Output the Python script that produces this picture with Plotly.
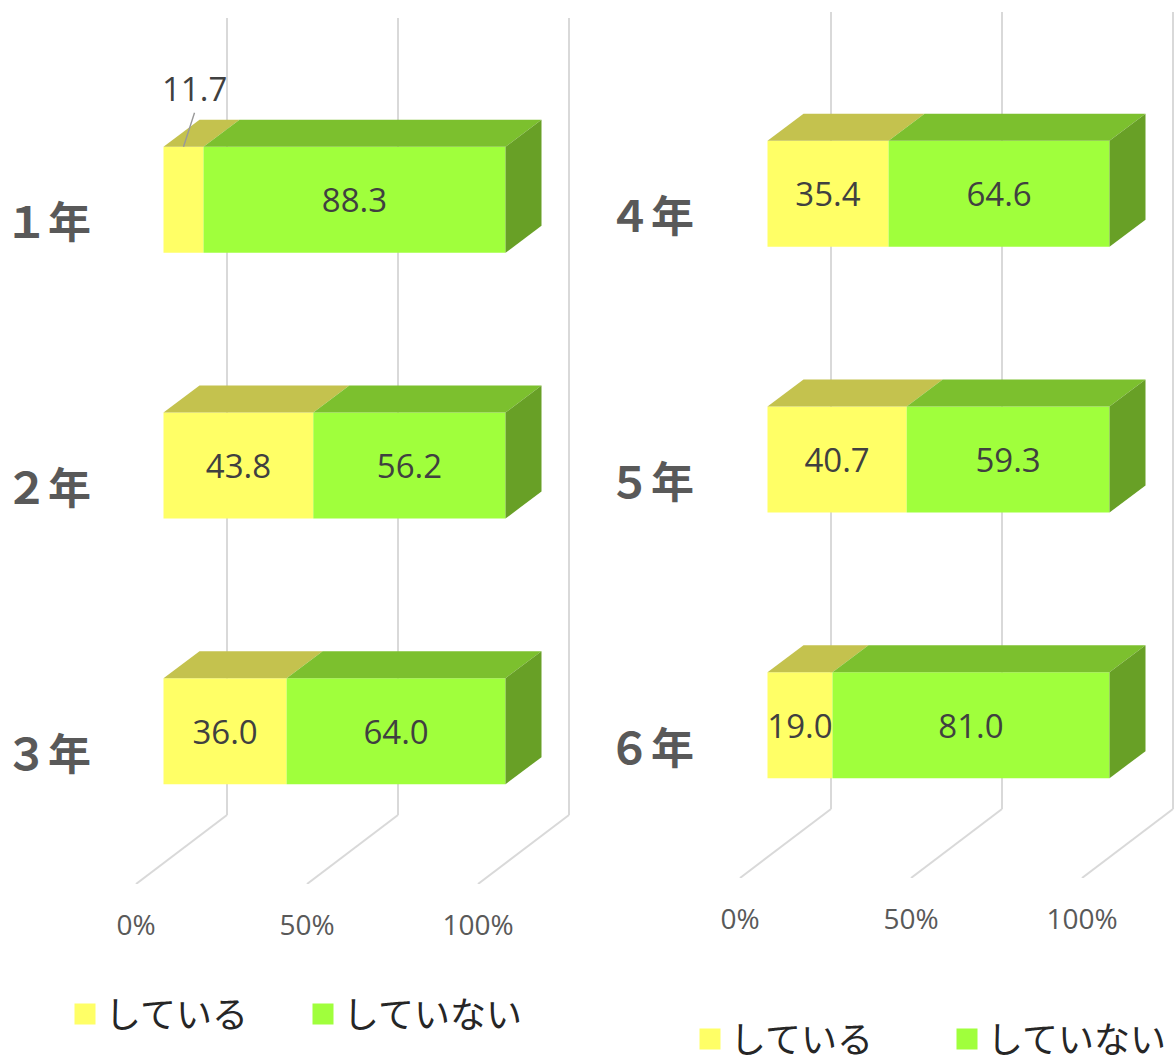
import plotly.graph_objects as go

LEFT_GRADES = ["１年", "２年", "３年"]
LEFT_DOING = [11.7, 43.8, 36.0]
LEFT_NOT = [88.3, 56.2, 64.0]
RIGHT_GRADES = ["４年", "５年", "６年"]
RIGHT_DOING = [35.4, 40.7, 19.0]
RIGHT_NOT = [64.6, 59.3, 81.0]
TICKS = [0, 50, 100]
TICK_TEXT = ["0%", "50%", "100%"]
NAME_DOING = "している"
NAME_NOT = "していない"

W, H = 1176, 1061
PX_PER_PCT = 3.42
PX_PER_CAT = 265.67
BAR_H = 106 / PX_PER_CAT
# depth of planes in pixels (dx, dy)
FRONT = (27.5, 20)
BACK = (63.5, 47)
WALL = (91, 69)
LABEL_NUDGE = 3.5 / PX_PER_CAT

Y_FACE, G_FACE = "#FFFF66", "#A0FF3C"
Y_TOP, G_TOP = "#C4C24E", "#7CC02E"
G_SIDE = "#68A026"
GRID = "#D9D9D9"
LABEL = "#404040"
FONT = "Open Sans, Noto Sans CJK JP, sans-serif"
CJK = "Noto Sans CJK JP, sans-serif"
LEGEND_FONT = "Liberation Sans, Noto Sans CJK JP, sans-serif"


def dx(p):
    return p[0] / PX_PER_PCT


def dy(p):
    return p[1] / PX_PER_CAT


fig = go.Figure()


def poly(xs, ys, color, xa, ya):
    fig.add_trace(go.Scatter(x=xs + xs[:1], y=ys + ys[:1], mode="lines", fill="toself",
                             fillcolor=color, line=dict(width=0, color=color),
                             hoverinfo="skip", showlegend=False, xaxis=xa, yaxis=ya))


def panel(grades, doing, other, xa, ya):
    xref, yref = xa, ya
    # walls and floor lines, drawn under all traces
    for t in TICKS:
        wx = t + dx(WALL)
        fig.add_shape(type="line", xref=xref, yref=yref, x0=t, y0=2.5, x1=wx, y1=2.5 - dy(WALL),
                      line=dict(color=GRID, width=2), layer="below")
        fig.add_shape(type="line", xref=xref, yref=yref, x0=wx, y0=2.5 - dy(WALL), x1=wx, y1=-0.5 - dy(WALL),
                      line=dict(color=GRID, width=2), layer="below")
    for i in range(len(grades)):
        top = i - BAR_H / 2
        bot = i + BAR_H / 2
        a = doing[i]
        b = doing[i] + other[i]
        fx, fy = dx(FRONT), dy(FRONT)
        kx, ky = dx(BACK), dy(BACK)
        # top faces
        poly([fx, fx + a, kx + a, kx], [top - fy, top - fy, top - ky, top - ky], Y_TOP, xa, ya)
        poly([fx + a, fx + b, kx + b, kx + a], [top - fy, top - fy, top - ky, top - ky], G_TOP, xa, ya)
        # side face
        poly([fx + b, kx + b, kx + b, fx + b], [top - fy, top - ky, bot - ky, bot - fy], G_SIDE, xa, ya)
    ys = [i - dy(FRONT) for i in range(len(grades))]
    fx = dx(FRONT)
    doing_text = ["" if v < 15 else f"{v:.1f}" for v in doing]
    fig.add_trace(go.Bar(x=doing, y=ys, base=[fx] * len(ys), orientation="h", width=BAR_H,
                         marker=dict(color=Y_FACE, line=dict(width=0)), text=doing_text,
                         textposition="inside", insidetextanchor="middle", constraintext="none",
                         textangle=0, textfont=dict(family=FONT, size=33, color=LABEL),
                         hoverinfo="skip", showlegend=False, xaxis=xa, yaxis=ya))
    fig.add_trace(go.Bar(x=other, y=ys, base=[fx + v for v in doing], orientation="h", width=BAR_H,
                         marker=dict(color=G_FACE, line=dict(width=0)), text=[f"{v:.1f}" for v in other],
                         textposition="inside", insidetextanchor="middle", constraintext="none",
                         textangle=0, textfont=dict(family=FONT, size=33, color=LABEL),
                         hoverinfo="skip", showlegend=False, xaxis=xa, yaxis=ya))


def legend_items(legend_name, xa, ya):
    for name, color in ((NAME_DOING, Y_FACE), (NAME_NOT, G_FACE)):
        fig.add_trace(go.Scatter(x=[None], y=[None], mode="markers", name=name, legend=legend_name,
                                 marker=dict(symbol="square", size=16, color=color,
                                             line=dict(width=5, color=color)),
                                 xaxis=xa, yaxis=ya))


panel(LEFT_GRADES, LEFT_DOING, LEFT_NOT, "x", "y")
panel(RIGHT_GRADES, RIGHT_DOING, RIGHT_NOT, "x2", "y2")
legend_items("legend", "x", "y")
legend_items("legend2", "x2", "y2")

# outside label with leader for the narrow segment
fig.add_annotation(xref="x", yref="y", x=dx(FRONT) + LEFT_DOING[0] / 2,
                   y=0 - dy(FRONT) - BAR_H / 2, text="11.7", showarrow=True, arrowhead=0,
                   arrowcolor="#999999", arrowwidth=1.4, ax=11, ay=-34, axref="pixel", ayref="pixel",
                   standoff=0, startstandoff=0, yanchor="bottom", xanchor="center",
                   font=dict(family=FONT, size=33, color=LABEL))


def xaxis_cfg(px0, px1, front0):
    return dict(domain=[px0 / W, px1 / W], automargin=False,
                range=[(px0 - front0) / PX_PER_PCT, (px1 - front0) / PX_PER_PCT],
                tickmode="array", tickvals=TICKS, ticktext=TICK_TEXT, showgrid=False, zeroline=False,
                showline=False, ticks="outside", ticklen=16, tickcolor="rgba(0,0,0,0)",
                tickfont=dict(family=FONT, size=28, color="#595959"), fixedrange=True)


def yaxis_cfg(floor_px, labels, anchor):
    top = -0.5 - (floor_px - 3 * PX_PER_CAT) / PX_PER_CAT
    return dict(domain=[1 - floor_px / H, 1], range=[2.5, top], anchor=anchor, automargin=False,
                tickmode="array", tickvals=[i + LABEL_NUDGE for i in range(3)], ticktext=labels,
                showgrid=False, zeroline=False, showline=False, ticks="",
                tickfont=dict(family=CJK, size=43, color="#595959", weight="bold"), fixedrange=True)


fig.update_layout(
    width=W, height=H, margin=dict(l=0, r=0, t=0, b=0, autoexpand=False), autosize=False,
    paper_bgcolor="white", plot_bgcolor="rgba(0,0,0,0)", barmode="overlay",
    xaxis=xaxis_cfg(92, 588, 136), yaxis=yaxis_cfg(884, LEFT_GRADES, "x"),
    xaxis2={**xaxis_cfg(695, 1176, 740), "anchor": "y2"}, yaxis2=yaxis_cfg(878, RIGHT_GRADES, "x2"),
    legend=dict(orientation="h", x=65 / W, y=1 - 1014 / H, xanchor="left", yanchor="middle",
                font=dict(family=LEGEND_FONT, size=36, color="#262626"), bgcolor="rgba(0,0,0,0)",
                entrywidth=193, entrywidthmode="pixels"),
    legend2=dict(orientation="h", x=690 / W, y=1 - 1039 / H, xanchor="left", yanchor="middle",
                 font=dict(family=LEGEND_FONT, size=36, color="#262626"), bgcolor="rgba(0,0,0,0)",
                 entrywidth=212, entrywidthmode="pixels"),
)

fig.write_html("out.html", config=dict(displayModeBar=False),
               post_script="document.body.style.margin='0';document.body.style.overflow='hidden';")
